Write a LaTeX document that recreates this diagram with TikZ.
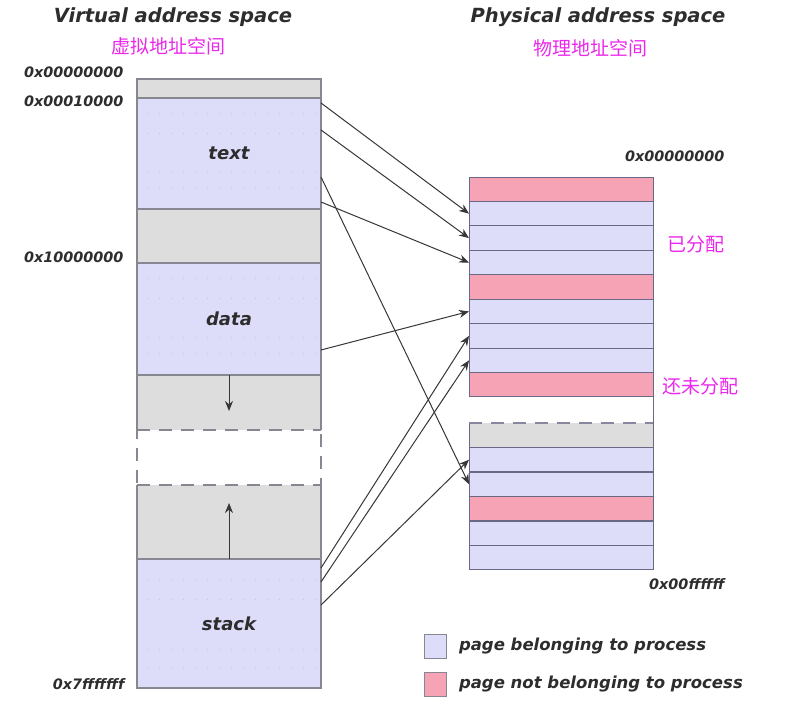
\documentclass[tikz,border=0pt]{standalone}
\usepackage{fontspec}
\setmainfont{DejaVu Sans}
\newfontfamily\cjk{Noto Sans CJK SC}
\usetikzlibrary{positioning,arrows.meta,calc}
\definecolor{pagein}{RGB}{221,221,250}
\definecolor{pageout}{RGB}{247,163,182}
\definecolor{gapgray}{RGB}{221,221,221}
\definecolor{edgegray}{RGB}{135,135,145}
\definecolor{rowline}{RGB}{105,105,135}
\definecolor{mapline}{RGB}{55,55,55}
\definecolor{zhpink}{RGB}{235,40,235}
\definecolor{labelgray}{RGB}{45,45,45}
\tikzset{
  seg/.style={draw=edgegray, line width=1.1pt, minimum width=184pt, minimum height=#1,
    inner sep=0pt, outer sep=0pt, anchor=north west},
  row/.style={draw=rowline, line width=1pt, minimum width=184pt, minimum height=24.44pt,
    inner sep=0pt, outer sep=0pt, anchor=north west},
  map/.style={draw=mapline, line width=1pt, -{Stealth[length=10pt,width=8pt]}},
  segname/.style={font=\bfseries\itshape\fontsize{18}{20}\selectfont, text=labelgray},
  title/.style={font=\bfseries\itshape\fontsize{19.5}{22}\selectfont, text=labelgray},
  addr/.style={font=\bfseries\itshape\fontsize{14.4}{16}\selectfont, text=labelgray},
  zh/.style={font=\cjk\fontsize{19}{21}\selectfont, text=zhpink},
  legtext/.style={font=\bfseries\itshape\fontsize{16.5}{18}\selectfont, text=labelgray},
  legbox/.style={draw=edgegray, line width=1pt, minimum width=22pt, minimum height=24pt, inner sep=0pt},
  gapedge/.style={draw=edgegray, line width=1.1pt, dash pattern=on 13pt off 9pt}
}
\begin{document}
\begin{tikzpicture}[x=1pt,y=-1pt]
  \useasboundingbox[fill=white] (0,0) rectangle (796,704);
  % titles
  \node[title] (vtitle) at (173,17) {Virtual address space};
  \node[zh] (vzh) at (168,46) {虚拟地址空间};
  \node[title] (ptitle) at (598,17) {Physical address space};
  \node[zh] (pzh) at (590,48) {物理地址空间};

  % virtual address space
  \node[seg=19pt, fill=gapgray] (zero) at (137,79) {};
  \node[seg=111pt, fill=pagein, below=0pt of zero] (text) {};
  \node[seg=54pt, fill=gapgray, below=0pt of text] (hole) {};
  \node[seg=112pt, fill=pagein, below=0pt of hole] (data) {};
  \node[seg=55pt, fill=gapgray, draw=none, below=0pt of data] (heapdown) {};
  \node[seg=74pt, fill=gapgray, draw=none] (heapup) at (137,485) {};
  \node[seg=129pt, fill=pagein, below=0pt of heapup] (stack) {};
  % faint dots in the used segments
  \foreach \seg/\a/\b/\c/\d in {text/15/35/74/90, data/15/35/74/90, stack/20/40/90/108}
    \foreach \dy in {\a,\b,\c,\d}
      \draw[pagein!75!gray, line width=0.8pt, dash pattern=on 1pt off 11pt]
        ([xshift=10pt,yshift=-\dy pt]\seg.north west) -- ([xshift=-4pt,yshift=-\dy pt]\seg.north east);
  \node[segname] at (text) {text};
  \node[segname] at (data) {data};
  \node[segname] at (stack) {stack};
  % edges round the growing area
  \draw[edgegray, line width=1.1pt] (heapdown.south west) -- (heapdown.north west)
    -- (heapdown.north east) -- (heapdown.south east);
  \draw[edgegray, line width=1.1pt] (heapup.north west) -- (heapup.south west)
    -- (heapup.south east) -- (heapup.north east);
  \draw[gapedge] (heapdown.south west) -- (heapdown.south east);
  \draw[gapedge] (heapup.north west) -- (heapup.north east);
  \draw[gapedge, dash phase=4pt] (heapdown.south west) -- (heapup.north west);
  \draw[gapedge, dash phase=18pt] (heapdown.south east) -- (heapup.north east);
  \coordinate (downtip) at ([yshift=-36pt]heapdown.north);
  \coordinate (uptip) at ([yshift=56pt]heapup.south);
  \draw[map] (heapdown.north) -- (downtip);
  \draw[map] (heapup.south) -- (uptip);

  \node[addr, anchor=east] (a0) at (127,72) {0x00000000};
  \node[addr, anchor=east] (a1) at (127,101) {0x00010000};
  \node[addr, anchor=east] (a2) at (127,257) {0x10000000};
  \node[addr, anchor=east] (a3) at (128,684) {0x7fffffff};

  % physical address space
  \foreach \c [count=\i] in {pageout,pagein,pagein,pagein,pageout,pagein,pagein,pagein,pageout}
    \node[row, fill=\c] (p\i) at (469,{177+(\i-1)*24.44}) {};
  \foreach \c [count=\i] in {gapgray,pagein,pagein,pageout,pagein,pagein}
    \node[row, fill=\c] (q\i) at (469,{423+(\i-1)*24.5}) {};
  \fill[gapgray] (q1.north west) rectangle (q1.south east);
  \draw[rowline, line width=1pt] (q1.north west) -- (q1.south west)
    (p9.south east) -- (q1.south east) (q1.south west) -- (q1.south east);
  \draw[gapedge, draw=rowline!80] (q1.north west) -- (q1.north east);
  \node[addr, anchor=east] (b0) at (728,156) {0x00000000};
  \node[addr, anchor=east] (b1) at (728,584) {0x00ffffff};
  \node[zh, anchor=west] (used) at (664,244) {已分配};
  \node[zh, anchor=west] (free) at (659,386) {还未分配};

  % mappings
  \coordinate (t1) at ([yshift=-5pt]text.north east);
  \coordinate (t2) at ([yshift=-32pt]text.north east);
  \coordinate (t3) at ([yshift=-79pt]text.north east);
  \coordinate (t4) at ([yshift=-104pt]text.north east);
  \coordinate (d1) at ([yshift=-87pt]data.north east);
  \coordinate (s1) at ([yshift=-9pt]stack.north east);
  \coordinate (s2) at ([yshift=-23pt]stack.north east);
  \coordinate (s3) at ([yshift=-46pt]stack.north east);
  \draw[map] (t1) -- (p2.west);
  \draw[map] (t2) -- (p3.west);
  \draw[map] (t4) -- (p4.west);
  \draw[map] (t3) -- (q3.west);
  \draw[map] (d1) -- (p6.west);
  \draw[map] (s1) -- (p7.west);
  \draw[map] (s2) -- (p8.west);
  \draw[map] (s3) -- (q2.west);

  % legend
  \node[legbox, fill=pagein] (lin) at (435,646) {};
  \node[legbox, fill=pageout] (lout) at (435,684) {};
  \node[legtext, right=9pt of lin] (lintext) {page belonging to process};
  \node[legtext, right=9pt of lout] (louttext) {page not belonging to process};
\end{tikzpicture}
\end{document}
